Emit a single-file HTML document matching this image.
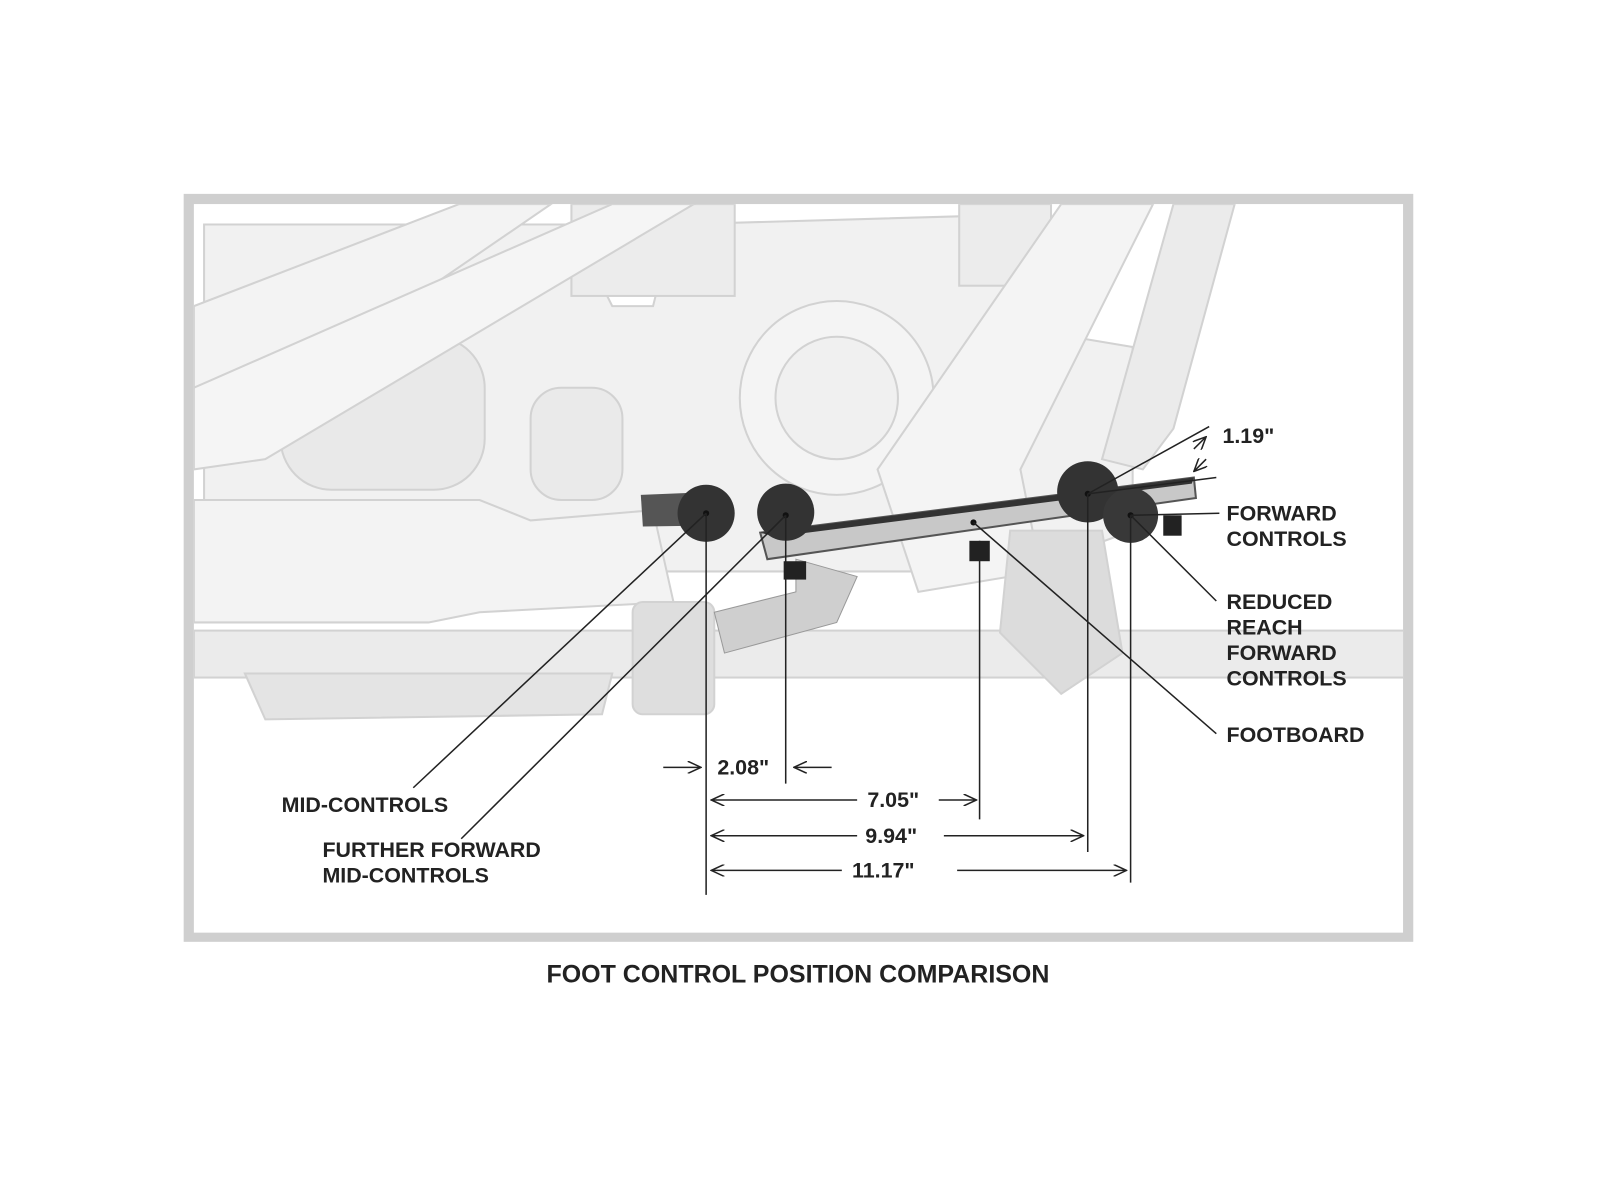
<!DOCTYPE html>
<html><head><style>
body{margin:0;background:#fff;}
svg{display:block}
text{font-family:"Liberation Sans",sans-serif;font-weight:bold;fill:#222;font-size:21px}
</style></head><body>
<svg width="1600" height="1200" viewBox="0 0 1600 1200">
<defs>
<marker id="ah" markerWidth="14" markerHeight="12" refX="13" refY="6" orient="auto" markerUnits="userSpaceOnUse"><path d="M0,0 L13,6 L0,12" fill="none" stroke="#222" stroke-width="1.5"/></marker>
<clipPath id="c"><rect x="190" y="200" width="1185" height="714"/></clipPath>
</defs>
<g transform="scale(1.0204)">
<rect x="180" y="190" width="1205" height="733" fill="#cfcfcf"/>
<rect x="190" y="200" width="1185" height="714" fill="#fff"/>
<g clip-path="url(#c)" stroke="#d2d2d2" stroke-width="2" fill="#efefef">
<path d="M200,220 L560,220 L600,300 L640,300 L660,220 L1010,210 L1050,330 L1110,340 L1110,520 L1000,560 L640,560 L600,520 L200,520 Z" fill="#f1f1f1"/>
<rect x="560" y="200" width="160" height="90" fill="#ececec"/>
<rect x="940" y="200" width="90" height="80" fill="#ececec"/>
<rect x="275" y="330" width="200" height="150" rx="50" fill="#e9e9e9"/>
<circle cx="820" cy="390" r="95" fill="#f4f4f4"/>
<circle cx="820" cy="390" r="60" fill="#f0f0f0"/>
<rect x="520" y="380" width="90" height="110" rx="30" fill="#eaeaea"/>
<path d="M190,300 L450,200 L540,200 L190,440 Z" fill="#f3f3f3"/>
<path d="M190,380 L600,200 L680,200 L260,450 L190,460 Z" fill="#f5f5f5"/>
<path d="M1040,200 L1130,200 L1000,460 L1020,560 L900,580 L860,460 Z" fill="#f4f4f4"/>
<path d="M1150,200 L1210,200 L1150,420 L1120,460 L1080,450 Z" fill="#ebebeb"/>
<path d="M190,490 L470,490 L520,510 L640,500 L660,590 L470,600 L420,610 L190,610 Z" fill="#f3f3f3"/>
<rect x="190" y="618" width="1190" height="46" fill="#ebebeb"/>
<path d="M240,660 L600,660 L590,700 L260,705 Z" fill="#e4e4e4"/>
<rect x="620" y="590" width="80" height="110" rx="10" fill="#dedede"/>
<path d="M990,520 L1080,520 L1100,640 L1040,680 L980,620 Z" fill="#dcdcdc"/>
</g>
<path d="M745,522 L1170,468 L1172,488 L752,548 Z" fill="#c8c8c8" stroke="#555" stroke-width="2"/>
<path d="M745,522 L1170,468 L1168,474 L760,526 Z" fill="#333"/>
<path d="M628,485 L700,482 L700,515 L630,516 Z" fill="#555"/>
<path d="M780,548 L840,565 L820,610 L710,640 L700,600 L780,580 Z" fill="#cfcfcf" stroke="#999"/>
<g fill="#222">
<rect x="768" y="550" width="22" height="18"/><rect x="950" y="530" width="20" height="20"/><rect x="1140" y="505" width="18" height="20"/>
</g>
<circle cx="692" cy="503" r="28" fill="#333"/>
<circle cx="770" cy="502" r="28" fill="#333"/>
<circle cx="1066" cy="482" r="30" fill="#333"/>
<circle cx="1108" cy="505" r="27" fill="#383838"/>
<g fill="#111"><circle cx="692" cy="503" r="3"/><circle cx="770" cy="505" r="3"/><circle cx="954" cy="512" r="3"/><circle cx="1066" cy="484" r="3"/><circle cx="1108" cy="505" r="3"/></g>
<g stroke="#222" stroke-width="1.5" fill="none">
<line x1="692" y1="503" x2="405" y2="772"/>
<line x1="770" y1="505" x2="452" y2="822"/>
<line x1="1066" y1="484" x2="1185" y2="418"/>
<line x1="1108" y1="505" x2="1195" y2="503"/>
<line x1="1066" y1="484" x2="1192" y2="468"/>
<line x1="1108" y1="505" x2="1192" y2="589"/>
<line x1="954" y1="512" x2="1192" y2="719"/>
<line x1="692" y1="503" x2="692" y2="877"/>
<line x1="770" y1="505" x2="770" y2="768"/>
<line x1="960" y1="530" x2="960" y2="803"/>
<line x1="1066" y1="484" x2="1066" y2="835"/>
<line x1="1108" y1="505" x2="1108" y2="865"/>
<line x1="1170" y1="440" x2="1182" y2="428" marker-end="url(#ah)"/>
<line x1="1182" y1="450" x2="1170" y2="462" marker-end="url(#ah)"/>
<line x1="650" y1="752" x2="687" y2="752" marker-end="url(#ah)"/>
<line x1="815" y1="752" x2="778" y2="752" marker-end="url(#ah)"/>
<line x1="840" y1="784" x2="697" y2="784" marker-end="url(#ah)"/>
<line x1="920" y1="784" x2="957" y2="784" marker-end="url(#ah)"/>
<line x1="840" y1="819" x2="697" y2="819" marker-end="url(#ah)"/>
<line x1="925" y1="819" x2="1062" y2="819" marker-end="url(#ah)"/>
<line x1="825" y1="853" x2="697" y2="853" marker-end="url(#ah)"/>
<line x1="938" y1="853" x2="1104" y2="853" marker-end="url(#ah)"/>
</g>
<text x="1198" y="434">1.19"</text>
<text x="1202" y="510">FORWARD</text><text x="1202" y="535">CONTROLS</text>
<text x="1202" y="597">REDUCED</text><text x="1202" y="622">REACH</text><text x="1202" y="647">FORWARD</text><text x="1202" y="672">CONTROLS</text>
<text x="1202" y="727">FOOTBOARD</text>
<text x="276" y="796">MID-CONTROLS</text>
<text x="316" y="840">FURTHER FORWARD</text><text x="316" y="865">MID-CONTROLS</text>
<text x="703" y="759">2.08"</text>
<text x="850" y="791">7.05"</text>
<text x="848" y="826">9.94"</text>
<text x="835" y="860">11.17"</text>
<text x="782" y="963" text-anchor="middle" style="font-size:24.5px">FOOT CONTROL POSITION COMPARISON</text>
</g>
</svg>
</body></html>
